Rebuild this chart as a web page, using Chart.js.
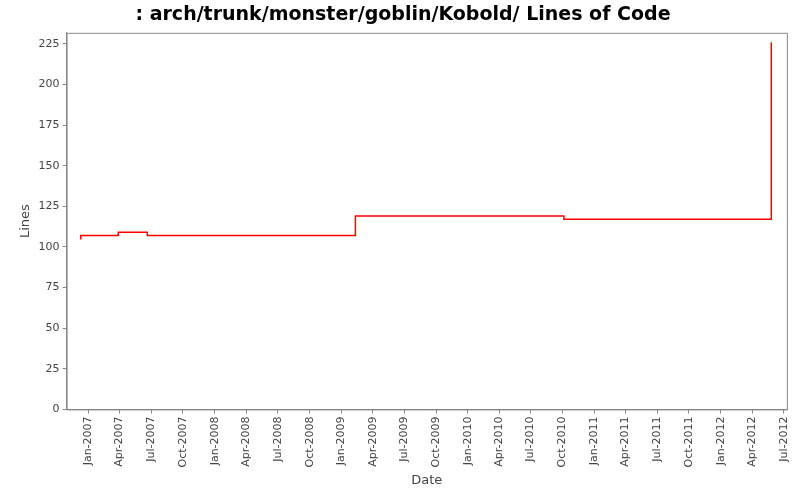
<!DOCTYPE html>
<html>
<head>
<meta charset="utf-8">
<script src="https://cdn.jsdelivr.net/npm/chart.js@4"></script>
<style>
  html, body { margin: 0; padding: 0; background: #fff; }
  #wrap { width: 800px; height: 500px; }
</style>
</head>
<body>
<div id="wrap"><canvas id="c"></canvas></div>
<script>
'use strict';

const MONTHS = ['Jan', 'Feb', 'Mar', 'Apr', 'May', 'Jun', 'Jul', 'Aug', 'Sep', 'Oct', 'Nov', 'Dec'];

// step dates and line counts
const dates = ['2006-12-08', '2006-12-10', '2007-03-28', '2007-06-20', '2009-02-10', '2010-10-05', '2012-05-25', '2012-05-26'];
const lines = [105, 107, 109, 107, 119, 117, 117, 226];

// quarterly tick labels
const tickDates = [];
for (let y = 2007; y <= 2012; y++) {
  for (const m of [0, 3, 6, 9]) {
    if (y === 2012 && m > 6) break;
    tickDates.push(Date.UTC(y, m, 1));
  }
}

const ms = (s) => Date.parse(s + 'T00:00:00Z');
const points = dates.map((d, i) => ({ x: ms(d), y: lines[i] }));

const frame = {
  id: 'frame',
  afterDraw(chart) {
    const a = chart.chartArea, c = chart.ctx;
    c.save();
    c.strokeStyle = '#888';
    c.lineWidth = 1;
    c.strokeRect(a.left + 0.5, a.top + 0.5, a.width, a.height);
    c.restore();
  },
};

const tickFont = { family: "'DejaVu Sans', sans-serif", size: 11 };

new Chart(document.getElementById('c'), {
  type: 'line',
  data: {
    datasets: [{
      data: points,
      stepped: 'before',
      borderColor: '#ff0000',
      borderWidth: 1.5,
      pointRadius: 0,
      fill: false,
    }],
  },
  options: {
    responsive: true,
    maintainAspectRatio: false,
    animation: false,
    layout: { padding: { left: 16, right: 10, top: 0, bottom: 10 } },
    plugins: {
      legend: { display: false },
      tooltip: { enabled: false },
      title: {
        display: true,
        text: ': arch/trunk/monster/goblin/Kobold/ Lines of Code',
        color: '#000',
        font: { family: "'DejaVu Sans', sans-serif", size: 19, weight: 'bold' },
        padding: { top: 4, bottom: 6 },
      },
    },
    scales: {
      x: {
        type: 'linear',
        min: ms('2006-10-30'),
        max: ms('2012-07-10'),
        afterBuildTicks: (axis) => { axis.ticks = tickDates.map((v) => ({ value: v })); },
        grid: { drawOnChartArea: false, drawTicks: true, tickLength: 4, color: '#888' },
        border: { color: '#888' },
        ticks: {
          color: '#444',
          font: tickFont,
          maxRotation: 90,
          minRotation: 90,
          autoSkip: false,
          callback: (v) => { const d = new Date(v); return MONTHS[d.getUTCMonth()] + '-' + d.getUTCFullYear(); },
        },
        title: { display: true, text: 'Date', color: '#444', font: { family: "'DejaVu Sans', sans-serif", size: 13 }, padding: 2 },
      },
      y: {
        min: 0,
        max: 231.8,
        afterBuildTicks: (axis) => { axis.ticks = [0, 25, 50, 75, 100, 125, 150, 175, 200, 225].map((v) => ({ value: v })); },
        grid: { drawOnChartArea: false, drawTicks: true, tickLength: 4, color: '#888' },
        border: { color: '#888' },
        ticks: { color: '#444', font: tickFont },
        title: { display: true, text: 'Lines', color: '#444', font: { family: "'DejaVu Sans', sans-serif", size: 13 }, padding: 2 },
      },
    },
  },
  plugins: [frame],
});
</script>
</body>
</html>
